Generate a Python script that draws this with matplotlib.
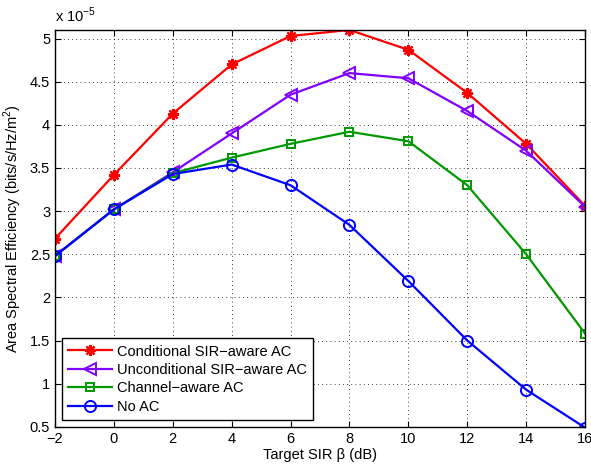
import matplotlib
matplotlib.use('Agg')
import matplotlib.pyplot as plt
import numpy as np

plt.rcParams['font.family'] = ['Liberation Sans', 'DejaVu Sans']
plt.rcParams['mathtext.fontset'] = 'custom'
plt.rcParams['mathtext.rm'] = 'Liberation Sans'

# Datos (unidades de 1e-5 bits/s/Hz/m^2)
sir_db = [-2, 0, 2, 4, 6, 8, 10, 12, 14, 16]
cond_sir = [2.68, 3.42, 4.13, 4.70, 5.03, 5.10, 4.87, 4.37, 3.78, 3.06]
uncond_sir = [2.48, 3.02, 3.45, 3.90, 4.35, 4.60, 4.54, 4.16, 3.70, 3.05]
channel_aware = [2.48, 3.02, 3.44, 3.62, 3.78, 3.92, 3.81, 3.30, 2.50, 1.58]
no_ac = [2.48, 3.02, 3.43, 3.54, 3.30, 2.84, 2.19, 1.50, 0.93, 0.49]

fs = 10.5

fig = plt.figure(figsize=(5.91, 4.68), dpi=100)
ax = fig.add_axes([0.093, 0.088, 0.897, 0.848])

ax.plot(sir_db, cond_sir, color='#FF0000', lw=1.6, marker=(8, 2, 0), ms=8,
        mew=1.6, label='Conditional SIR\u2212aware AC')
ax.plot(sir_db, uncond_sir, color='#8000FF', lw=1.6, marker='<', ms=8,
        mfc='none', mew=1.4, label='Unconditional SIR\u2212aware AC')
ax.plot(sir_db, channel_aware, color='#009900', lw=1.6, marker='s', ms=6,
        mfc='none', mew=1.4, label='Channel\u2212aware AC')
ax.plot(sir_db, no_ac, color='#0000FF', lw=1.6, marker='o', ms=8,
        mfc='none', mew=1.4, label='No AC')

ax.set_xlim(-2, 16)
ax.set_ylim(0.5, 5.1)
ax.set_xticks(np.arange(-2, 17, 2))
yt = np.arange(0.5, 5.01, 0.5)
ax.set_yticks(yt)
ax.set_yticklabels(['%g' % v for v in yt])
ax.tick_params(direction='in', top=True, right=True, labelsize=fs, length=4)
ax.grid(True, color='black', linestyle=(0, (1, 4)), lw=0.6)
for s in ax.spines.values():
    s.set_linewidth(1.0)

ax.set_xlabel('Target SIR \u03b2 (dB)', fontsize=fs, labelpad=2)
ax.set_ylabel('Area Spectral Efficiency (bits/s/Hz/m$^2$)', fontsize=fs, labelpad=4)
ax.text(0.0, 1.012, r'x 10$^{-5}$', transform=ax.transAxes, fontsize=fs,
        ha='left', va='bottom')

leg = ax.legend(loc='lower left', fontsize=fs, fancybox=False, framealpha=1,
                edgecolor='black', handlelength=3.0, handletextpad=0.35,
                borderaxespad=0.45, labelspacing=0.3, borderpad=0.45)
leg.get_frame().set_linewidth(1.0)

plt.savefig('out.png', dpi=100)
